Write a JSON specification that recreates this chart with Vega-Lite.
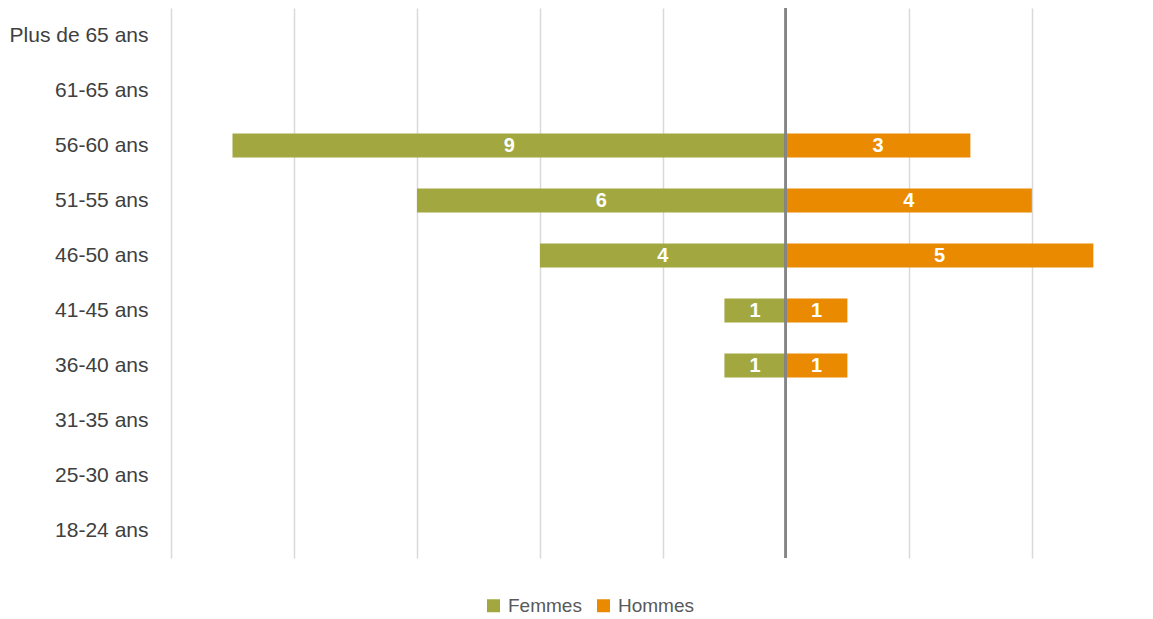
{
  "$schema": "https://vega.github.io/schema/vega-lite/v6.json",
  "autosize": {"type": "none"},
  "padding": {"left": 171, "top": 8, "right": 0, "bottom": 61},
  "width": 982,
  "height": 550,
  "background": "white",
  "config": {
    "view": {"stroke": null},
    "font": "Liberation Sans"
  },
  "data": {
    "values": [
      {"age": "Plus de 65 ans", "sexe": "Femmes", "value": 0, "n": 0},
      {"age": "Plus de 65 ans", "sexe": "Hommes", "value": 0, "n": 0},
      {"age": "61-65 ans", "sexe": "Femmes", "value": 0, "n": 0},
      {"age": "61-65 ans", "sexe": "Hommes", "value": 0, "n": 0},
      {"age": "56-60 ans", "sexe": "Femmes", "value": -9, "n": 9},
      {"age": "56-60 ans", "sexe": "Hommes", "value": 3, "n": 3},
      {"age": "51-55 ans", "sexe": "Femmes", "value": -6, "n": 6},
      {"age": "51-55 ans", "sexe": "Hommes", "value": 4, "n": 4},
      {"age": "46-50 ans", "sexe": "Femmes", "value": -4, "n": 4},
      {"age": "46-50 ans", "sexe": "Hommes", "value": 5, "n": 5},
      {"age": "41-45 ans", "sexe": "Femmes", "value": -1, "n": 1},
      {"age": "41-45 ans", "sexe": "Hommes", "value": 1, "n": 1},
      {"age": "36-40 ans", "sexe": "Femmes", "value": -1, "n": 1},
      {"age": "36-40 ans", "sexe": "Hommes", "value": 1, "n": 1},
      {"age": "31-35 ans", "sexe": "Femmes", "value": 0, "n": 0},
      {"age": "31-35 ans", "sexe": "Hommes", "value": 0, "n": 0},
      {"age": "25-30 ans", "sexe": "Femmes", "value": 0, "n": 0},
      {"age": "25-30 ans", "sexe": "Hommes", "value": 0, "n": 0},
      {"age": "18-24 ans", "sexe": "Femmes", "value": 0, "n": 0},
      {"age": "18-24 ans", "sexe": "Hommes", "value": 0, "n": 0}
    ]
  },
  "encoding": {
    "y": {
      "field": "age",
      "type": "nominal",
      "sort": ["Plus de 65 ans", "61-65 ans", "56-60 ans", "51-55 ans", "46-50 ans", "41-45 ans", "36-40 ans", "31-35 ans", "25-30 ans", "18-24 ans"],
      "scale": {"paddingInner": 0.56, "paddingOuter": 0.28},
      "axis": {
        "title": null,
        "domain": false,
        "ticks": false,
        "grid": false,
        "labelFontSize": 21,
        "labelColor": "#404040",
        "labelPadding": 23,
        "labelFont": "Liberation Sans"
      }
    }
  },
  "layer": [
    {
      "mark": {"type": "bar"},
      "encoding": {
        "x": {
          "field": "value",
          "type": "quantitative",
          "scale": {"domain": [-10, 5.97], "nice": false, "zero": false},
          "axis": {
            "title": null,
            "values": [-10, -8, -6, -4, -2, 2, 4],
            "labels": false,
            "ticks": false,
            "domain": false,
            "grid": true,
            "gridColor": "#d9d9d9",
            "gridWidth": 1.5
          }
        },
        "color": {
          "field": "sexe",
          "type": "nominal",
          "scale": {"domain": ["Femmes", "Hommes"], "range": ["#A2A83F", "#EA8A00"]},
          "legend": {
            "title": null,
            "orient": "none",
            "direction": "horizontal",
            "legendX": 313,
            "legendY": 588,
            "symbolType": "square",
            "symbolSize": 169,
            "symbolStrokeWidth": 0,
            "labelFontSize": 19,
            "labelColor": "#595959",
            "labelFont": "Liberation Sans",
            "labelOffset": 5,
            "columnPadding": 12
          }
        }
      }
    },
    {
      "mark": {"type": "rule", "color": "#868686", "strokeWidth": 2},
      "encoding": {
        "x": {"datum": 0, "type": "quantitative", "scale": {"domain": [-10, 5.97], "nice": false, "zero": false}, "axis": null},
        "y": null
      }
    },
    {
      "transform": [{"filter": "datum.n > 0"}],
      "mark": {"type": "text", "color": "white", "fontWeight": "bold", "fontSize": 20, "font": "Liberation Sans", "baseline": "middle", "align": "center"},
      "encoding": {
        "x": {
          "field": "value",
          "type": "quantitative",
          "scale": {"domain": [-20, 11.94], "nice": false, "zero": false},
          "axis": null
        },
        "text": {"field": "n", "type": "quantitative"}
      }
    }
  ],
  "resolve": {"scale": {"x": "independent"}}
}
